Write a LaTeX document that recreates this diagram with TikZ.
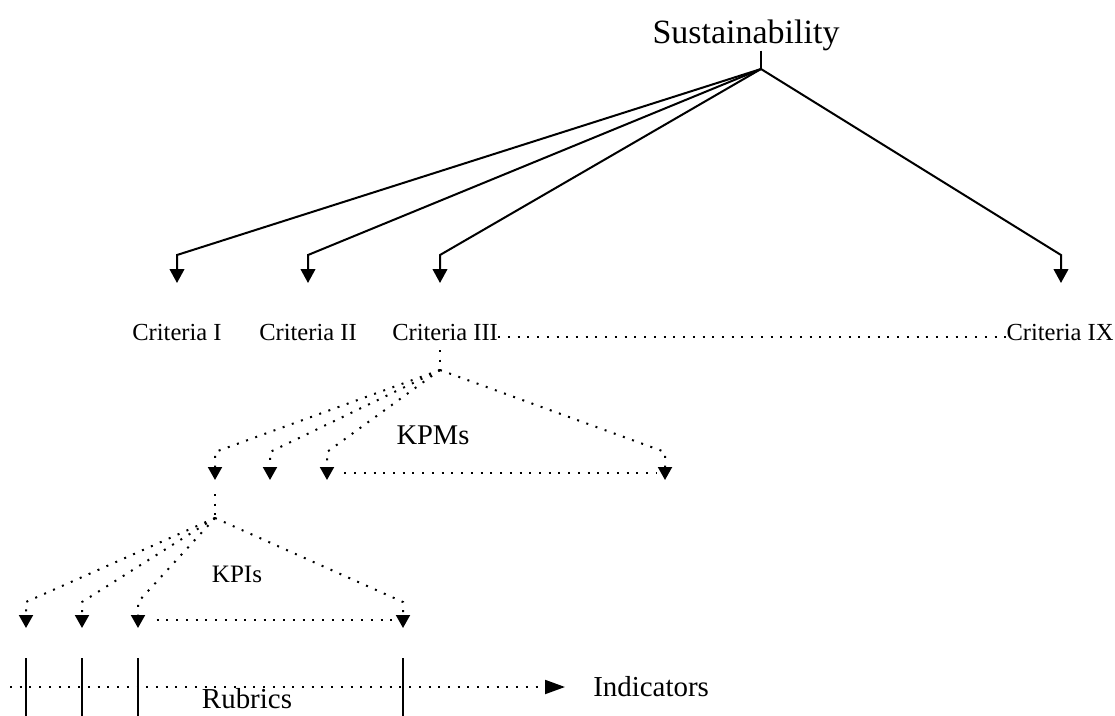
\documentclass[tikz,border=0pt]{standalone}
\usepackage{fontspec}
\setmainfont{Liberation Serif}
\usetikzlibrary{arrows.meta,positioning,calc}
\tikzset{
  toplabel/.style={font=\fontsize{25.5}{30}\selectfont,inner sep=0pt},
  critnode/.style={font=\fontsize{18.4}{22}\selectfont,inner sep=0pt},
  grouplabel/.style={font=\fontsize{21.4}{25}\selectfont,inner sep=0pt},
  solidarrow/.style={-{Triangle[length=10.5pt,width=11pt]},line width=1.5pt},
  dotline/.style={line width=1.5pt,dash pattern=on 1.5pt off 5.8pt},
  dotarrow/.style={dotline,-{Triangle[length=9.75pt,width=10.5pt]}},
  tick/.style={line width=1.5pt}
}
\begin{document}
\begin{tikzpicture}[x=0.75pt,y=-0.75pt]
  \useasboundingbox (0,0) rectangle (1115,715);

  % top level
  \node[toplabel,anchor=base] (sust) at (746,43) {Sustainability};
  \coordinate (hub) at (761,69);
  \draw[line width=1.5pt] (sust.south -| hub) -- (hub);

  % criteria
  \node[critnode,anchor=base] (c1) at (177,340) {Criteria I};
  \node[critnode,anchor=base] (c2) at (308,340) {Criteria II};
  \node[critnode,anchor=base west] (c3) at (392,340) {Criteria III};
  \node[critnode,anchor=base] (c9) at (1060,340) {Criteria IX};
  \foreach \n/\x in {c1/177,c2/308,c3/440,c9/1061}{
    \coordinate (\n in) at (\x,283);
    \draw[solidarrow] (hub) -- (\x,255) -- (\n in);
  }
  \draw[dotline] (c3.east |- 0,337) -- (c9.west |- 0,337);

  % KPMs
  \coordinate (kpmtop) at (440,350);
  \coordinate (kpmhub) at (440,370);
  \draw[dotline] (kpmtop) -- (kpmhub);
  \foreach \n/\x in {k1/215,k2/270,k3/327,k4/665}{
    \coordinate (\n) at (\x,480);
    \draw[dotarrow] (kpmhub) -- (\x,452) -- (\n);
  }
  \draw[dotline] ([xshift=13pt,yshift=5pt]k3) -- ([xshift=-6pt,yshift=5pt]k4);
  \node[grouplabel] (kpm) at (433,435) {KPMs};

  % KPIs
  \coordinate (kpitop) at (215,494);
  \coordinate (kpihub) at (215,518);
  \draw[dotline] (kpitop) -- (kpihub);
  \foreach \n/\x in {p1/26,p2/82,p3/138,p4/403}{
    \coordinate (\n) at (\x,628);
    \draw[dotarrow] (kpihub) -- (\x,602) -- (\n);
  }
  \draw[dotline] ([xshift=14pt,yshift=6pt]p3) -- ([xshift=-7pt,yshift=6pt]p4);
  \node[grouplabel,font=\fontsize{18.8}{22}\selectfont] (kpi) at (237,574) {KPIs};

  % rubrics
  \foreach \x in {26,82,138,403}
    \draw[tick] (\x,658) -- (\x,716);
  \node[grouplabel,font=\fontsize{21.7}{25}\selectfont,anchor=west] (ind) at (593,687) {Indicators};
  \coordinate (rubstart) at (10,687);
  \draw[dotline,-{Triangle[length=15pt,width=10.5pt]}] (rubstart) -- ([xshift=-21pt]ind.west);
  \node[grouplabel,font=\fontsize{21.7}{25}\selectfont] (rub) at (247,699) {Rubrics};
\end{tikzpicture}
\end{document}
